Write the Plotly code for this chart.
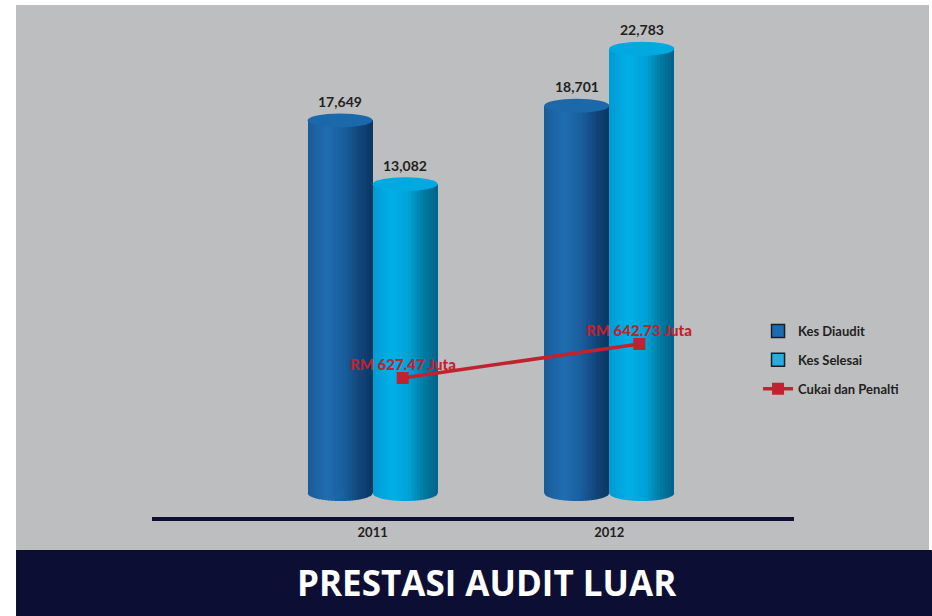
import math
import plotly.graph_objects as go

# ---------------- data ----------------
YEARS = ["2011", "2012"]
KES_DIAUDIT = [17649, 18701]
KES_SELESAI = [13082, 22783]
CUKAI_PENALTI = [627.47, 642.73]  # RM Juta

SERIES_NAMES = ["Kes Diaudit", "Kes Selesai"]
LINE_NAME = "Cukai dan Penalti"
TITLE = "PRESTASI AUDIT LUAR"

# ---------------- style ----------------
FONT = "Lato"
TXT = "#231f20"
RED = "#c1222f"
NAVY = "#0c0f33"
GRAY = "#bdbec0"
BAR_W = 0.275
BAR_BASE = -9044          # visual baseline of the cylinders (truncated as in reference)
N_STRIPS = 22
TOP_RY = 7
BOT_RY = 8
LINE_OFFSET = 0.127

DARK_STOPS = [(0.0, "#1a5b97"), (0.3, "#1f6db1"), (0.55, "#1a609f"),
              (0.8, "#10457a"), (1.0, "#0a3662")]
LIGHT_STOPS = [(0.0, "#009bd3"), (0.3, "#00afe6"), (0.55, "#00a3d7"),
               (0.8, "#00789f"), (1.0, "#00628a")]
TOP_COLORS = ["#1b68ab", "#00a9df"]
LEGEND_COLORS = ["#1b6bb3", "#29abe2"]


def hex2rgb(h):
    h = h.lstrip("#")
    return tuple(int(h[i:i + 2], 16) for i in (0, 2, 4))


def grad(stops, t):
    for (t0, c0), (t1, c1) in zip(stops[:-1], stops[1:]):
        if t0 <= t <= t1:
            f = (t - t0) / (t1 - t0)
            a, b = hex2rgb(c0), hex2rgb(c1)
            return "rgb(%d,%d,%d)" % tuple(round(a[i] + (b[i] - a[i]) * f) for i in range(3))
    return stops[-1][1]


fig = go.Figure()
x_idx = list(range(len(YEARS)))
series = [(KES_DIAUDIT, DARK_STOPS, -BAR_W), (KES_SELESAI, LIGHT_STOPS, 0.0)]
sw = BAR_W / N_STRIPS
shapes = []

# background panels
shapes.append(dict(type="rect", xref="paper", yref="paper", x0=-0.2118, x1=1.2103,
                   y0=-0.0645, y1=1.0, fillcolor=GRAY, line_width=0, layer="below"))
shapes.append(dict(type="rect", xref="paper", yref="paper", x0=-0.2118, x1=1.23,
                   y0=-0.21, y1=-0.0645, fillcolor=NAVY, line_width=0, layer="below"))

for s, (vals, stops, left) in enumerate(series):
    for k in range(N_STRIPS):
        col = grad(stops, (k + 0.5) / N_STRIPS)
        last = k == N_STRIPS - 1
        w = sw * (1.0 if last else 1.25)
        fig.add_trace(go.Bar(
            x=x_idx, y=[v - BAR_BASE for v in vals], base=BAR_BASE,
            width=w, offset=left + k * sw, marker=dict(color=col, line_width=0),
            showlegend=False, hoverinfo="skip"))
        # bottom half-ellipse slice of this strip
        for i in x_idx:
            xl = i + left + k * sw
            xr = xl + w
            cx = i + left + BAR_W / 2
            pts = []
            for j in range(5):
                xx = xl + (xr - xl) * j / 4
                u = min(1.0, abs(xx - cx) / (BAR_W / 2))
                pts.append((xx, -BOT_RY * math.sqrt(max(0.0, 1 - u * u))))
            path = "M%.5f,0 " % xl + " ".join("L%.5f,%.3f" % p for p in pts) + " L%.5f,0 Z" % xr
            shapes.append(dict(type="path", xref="x", yref="y", ysizemode="pixel",
                               yanchor=BAR_BASE, path=path, fillcolor=col,
                               line_width=0, layer="below"))
    # top ellipse caps
    for i, v in zip(x_idx, vals):
        shapes.append(dict(type="circle", xref="x", yref="y", ysizemode="pixel",
                           yanchor=v, y0=-TOP_RY, y1=TOP_RY,
                           x0=i + left, x1=i + left + BAR_W,
                           fillcolor=TOP_COLORS[s], line_width=0))

# legend-only squares
for s, name in enumerate(SERIES_NAMES):
    fig.add_trace(go.Scatter(
        x=[None], y=[None], mode="markers", name=name, legendrank=s + 1,
        legendgroup=name,
        marker=dict(symbol="square", size=13, color=LEGEND_COLORS[s],
                    line=dict(color="#1e1e1e", width=1.5))))

# penalty line
fig.add_trace(go.Scatter(
    x=[i + LINE_OFFSET for i in x_idx], y=CUKAI_PENALTI, yaxis="y2",
    mode="lines+markers", name=LINE_NAME, legendrank=3, legendgroup=LINE_NAME,
    line=dict(color=RED, width=3.5),
    marker=dict(symbol="square", size=12, color=RED), hoverinfo="skip"))

annotations = []
for s, (vals, stops, left) in enumerate(series):
    for i, v in zip(x_idx, vals):
        annotations.append(dict(x=i + left + BAR_W / 2, y=v, xref="x", yref="y",
                                text=f"{v:,}", showarrow=False, yshift=19,
                                font=dict(family=FONT, size=14, color=TXT, weight="bold")))
for i, v in zip(x_idx, CUKAI_PENALTI):
    annotations.append(dict(x=i + LINE_OFFSET, y=v, xref="x", yref="y2",
                            text=f"RM {v:.2f} Juta", showarrow=False, yshift=14,
                            font=dict(family=FONT, size=15, color=RED, weight=900)))
annotations.append(dict(x=0.5218, y=-0.127, xref="paper", yref="paper", text=TITLE,
                        showarrow=False, xanchor="center", yanchor="middle",
                        font=dict(family="Open Sans", size=35, color="white", weight="bold")))

fig.update_layout(
    width=932, height=616,
    margin=dict(l=152, r=138, t=5, b=99),
    paper_bgcolor="white", plot_bgcolor="rgba(0,0,0,0)",
    barmode="overlay", bargap=0,
    shapes=shapes, annotations=annotations,
    font=dict(family=FONT, color=TXT),
    xaxis=dict(range=[-0.9325, 1.7806], tickvals=x_idx, ticktext=YEARS,
               showline=True, linecolor=NAVY, linewidth=4, showgrid=False,
               zeroline=False, ticks="", fixedrange=True,
               tickfont=dict(family=FONT, size=13, color=TXT, weight="bold")),
    yaxis=dict(range=[-10763, 25916], visible=False, fixedrange=True),
    yaxis2=dict(range=[565.08, 794.9], overlaying="y", visible=False, fixedrange=True),
    legend=dict(x=0.944, y=0.3926, xanchor="left", yanchor="top",
                bgcolor="rgba(0,0,0,0)", tracegroupgap=9,
                font=dict(family=FONT, size=13, color=TXT, weight="bold")),
    showlegend=True,
)

fig.write_html("out.html", config={"displayModeBar": False},
               post_script="document.body.style.margin='0';")
